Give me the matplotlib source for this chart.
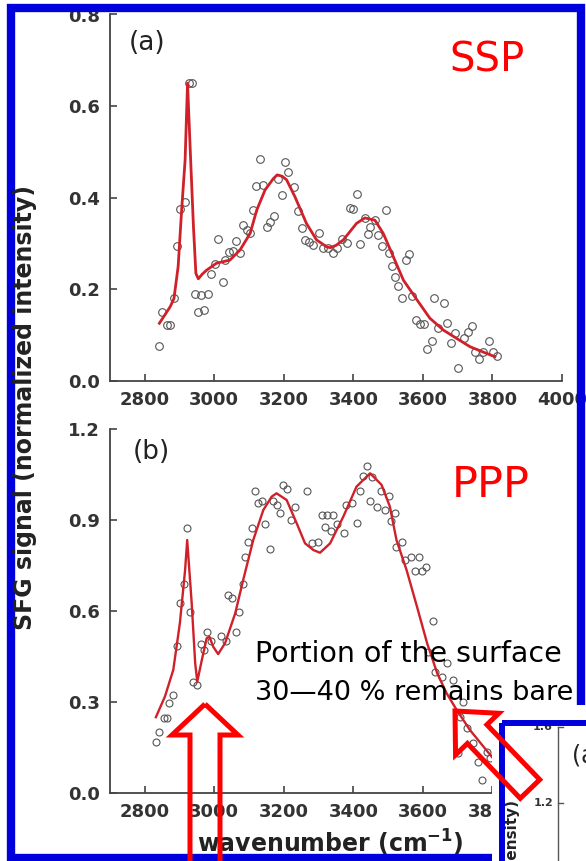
import matplotlib
matplotlib.use("Agg")
import matplotlib.pyplot as plt
import matplotlib.patches as mpatches

W, H = 586, 861          # output size in pixels (dpi 100)
BLUE = '#0000dc'
FIT_RED = '#d0202a'

# ---------------- data ----------------
# (a) SSP spectrum
ssp_wn = [2842, 2849, 2865, 2873, 2884, 2892, 2901, 2916, 2927, 2935, 2944, 2954, 2961, 2971,
          2981, 2990, 3002, 3011, 3024, 3031, 3042, 3053, 3062, 3074, 3083, 3093, 3103, 3112,
          3119, 3131, 3141, 3151, 3160, 3172, 3184, 3194, 3203, 3213, 3229, 3242, 3251, 3261,
          3273, 3283, 3302, 3313, 3328, 3342, 3352, 3366, 3382, 3390, 3400, 3409, 3419, 3433,
          3443, 3448, 3462, 3471, 3481, 3493, 3502, 3510, 3520, 3529, 3539, 3551, 3561, 3568,
          3580, 3593, 3603, 3611, 3625, 3632, 3644, 3660, 3670, 3680, 3692, 3702, 3718, 3731,
          3742, 3750, 3762, 3774, 3791, 3802, 3812]
ssp_sig = [0.076, 0.151, 0.122, 0.122, 0.182, 0.295, 0.375, 0.391, 0.650, 0.650, 0.189, 0.150,
           0.188, 0.156, 0.189, 0.233, 0.255, 0.309, 0.217, 0.264, 0.282, 0.284, 0.306, 0.280,
           0.341, 0.330, 0.324, 0.373, 0.426, 0.485, 0.428, 0.337, 0.346, 0.360, 0.442, 0.406,
           0.477, 0.457, 0.424, 0.370, 0.333, 0.308, 0.304, 0.297, 0.322, 0.290, 0.291, 0.279,
           0.291, 0.309, 0.302, 0.377, 0.375, 0.408, 0.298, 0.355, 0.320, 0.337, 0.351, 0.319,
           0.295, 0.373, 0.279, 0.250, 0.228, 0.207, 0.182, 0.264, 0.277, 0.186, 0.133, 0.124,
           0.124, 0.070, 0.087, 0.181, 0.115, 0.170, 0.127, 0.084, 0.105, 0.028, 0.093, 0.108,
           0.119, 0.063, 0.047, 0.064, 0.087, 0.064, 0.055]
ssp_fit_wn = [2842, 2873, 2884, 2896, 2906, 2916, 2923, 2932, 2940, 2947, 2954, 2965, 2978, 3006,
              3045, 3074, 3103, 3122, 3146, 3170, 3181, 3195, 3208, 3232, 3265, 3294, 3323, 3333,
              3350, 3371, 3409, 3433, 3462, 3486, 3515, 3544, 3583, 3620, 3659, 3697, 3735, 3774,
              3807]
ssp_fit = [0.126, 0.162, 0.180, 0.250, 0.373, 0.482, 0.650, 0.482, 0.337, 0.235, 0.223, 0.233,
           0.242, 0.257, 0.264, 0.286, 0.322, 0.373, 0.417, 0.442, 0.450, 0.447, 0.439, 0.402,
           0.344, 0.308, 0.293, 0.291, 0.296, 0.308, 0.344, 0.356, 0.351, 0.322, 0.271, 0.220,
           0.177, 0.137, 0.111, 0.093, 0.075, 0.063, 0.053]

# (b) PPP spectrum
ppp_wn = [2832, 2841, 2856, 2863, 2871, 2880, 2892, 2901, 2913, 2922, 2930, 2940, 2951, 2961,
          2971, 2978, 2990, 3019, 3033, 3040, 3052, 3061, 3072, 3082, 3088, 3098, 3109, 3117,
          3126, 3136, 3146, 3160, 3170, 3179, 3189, 3198, 3210, 3222, 3232, 3267, 3280, 3299,
          3309, 3318, 3325, 3335, 3342, 3352, 3373, 3380, 3395, 3409, 3419, 3427, 3440, 3448,
          3454, 3469, 3478, 3491, 3503, 3507, 3520, 3524, 3541, 3548, 3567, 3577, 3589, 3596,
          3609, 3616, 3630, 3635, 3654, 3668, 3686, 3701, 3708, 3716, 3726, 3745, 3759, 3769,
          3784, 3793]
ppp_sig = [0.169, 0.202, 0.246, 0.246, 0.296, 0.323, 0.485, 0.625, 0.689, 0.873, 0.598, 0.367,
           0.356, 0.490, 0.471, 0.530, 0.502, 0.519, 0.502, 0.653, 0.644, 0.532, 0.598, 0.689,
           0.779, 0.829, 0.875, 0.995, 0.957, 0.961, 0.887, 0.803, 0.963, 0.950, 0.922, 1.016,
           1.001, 0.900, 0.942, 0.994, 0.823, 0.829, 0.917, 0.878, 0.917, 0.865, 0.917, 0.886,
           0.856, 0.950, 0.956, 0.889, 0.994, 1.045, 1.078, 0.961, 1.043, 0.944, 0.994, 0.933,
           0.978, 0.897, 0.922, 0.811, 0.829, 0.768, 0.779, 0.733, 0.779, 0.733, 0.746, 0.466,
           0.567, 0.400, 0.383, 0.428, 0.373, 0.131, 0.252, 0.301, 0.213, 0.164, 0.103, 0.043,
           0.136, 0.114]
ppp_fit_wn = [2832, 2858, 2882, 2901, 2916, 2922, 2935, 2945, 2951, 2964, 2978, 2986, 2997, 3011,
              3031, 3060, 3083, 3112, 3141, 3165, 3179, 3208, 3237, 3261, 3285, 3304, 3333, 3371,
              3409, 3448, 3481, 3505, 3524, 3553, 3583, 3612, 3641, 3668, 3697, 3735, 3774, 3802]
ppp_fit = [0.250, 0.318, 0.406, 0.560, 0.735, 0.834, 0.625, 0.428, 0.367, 0.438, 0.510, 0.515,
           0.482, 0.458, 0.494, 0.592, 0.702, 0.834, 0.933, 0.977, 0.988, 0.966, 0.889, 0.823,
           0.801, 0.792, 0.823, 0.911, 1.010, 1.054, 1.016, 0.944, 0.834, 0.735, 0.614, 0.494,
           0.395, 0.329, 0.274, 0.208, 0.153, 0.114]

x_ticks = [2800, 3000, 3200, 3400, 3600, 3800, 4000]
ssp_yticks = [0.0, 0.2, 0.4, 0.6, 0.8]
ppp_yticks = [0.0, 0.3, 0.6, 0.9, 1.2]
inset_ylabels = ['1.6', '1.2']


def box(left, top, right, bottom):
    # pixel box -> figure fraction rect
    return [left / W, 1 - bottom / H, (right - left) / W, (bottom - top) / H]


def style(ax, yticks):
    ax.set_xlim(2700, 4000)
    ax.set_ylim(yticks[0], yticks[-1])
    ax.set_xticks(x_ticks)
    ax.set_yticks(yticks)
    ax.set_yticklabels([f'{t:.1f}' for t in yticks])
    for s in ['top', 'right']:
        ax.spines[s].set_visible(False)
    for s in ['left', 'bottom']:
        ax.spines[s].set_color('#444444')
        ax.spines[s].set_linewidth(1.3)
    ax.tick_params(direction='in', length=5, width=1.2, color='#444444', pad=7,
                   labelsize=13, labelcolor='#333333')
    for lab in ax.get_xticklabels() + ax.get_yticklabels():
        lab.set_fontweight('bold')


fig = plt.figure(figsize=(W / 100, H / 100), dpi=100, facecolor='white')

ax1 = fig.add_axes(box(110, 14.5, 562, 381))
ax1.plot(ssp_wn, ssp_sig, 'o', mfc='none', mec='#555555', mew=0.8, ms=5.5, zorder=2)
ax1.plot(ssp_fit_wn, ssp_fit, color=FIT_RED, lw=2.0, zorder=3)
style(ax1, ssp_yticks)

ax2 = fig.add_axes(box(110, 429, 562, 793))
ax2.plot(ppp_wn, ppp_sig, 'o', mfc='none', mec='#555555', mew=0.8, ms=5, zorder=2)
ax2.plot(ppp_fit_wn, ppp_fit, color=FIT_RED, lw=1.7, zorder=3)
style(ax2, ppp_yticks)

# overlay in pixel coordinates for frame, labels, inset and arrows
ov = fig.add_axes([0, 0, 1, 1], zorder=10)
ov.set_xlim(0, W)
ov.set_ylim(H, 0)
ov.axis('off')

ov.text(25, 407, 'SFG signal (normalized intensity)', rotation=90, fontsize=17,
        fontweight='bold', color='#222222', ha='center', va='center')
ov.text(330, 843, r'wavenumber (cm$^{\mathbf{-1}}$)', fontsize=17, fontweight='bold',
        color='#222222', ha='center', va='center')

ov.text(147, 43, '(a)', fontsize=19, color='#222222', ha='center', va='center')
ov.text(151, 452, '(b)', fontsize=19, color='#222222', ha='center', va='center')
ov.text(487, 60, 'SSP', fontsize=29, color='red', ha='center', va='center')
ov.text(491, 485, 'PPP', fontsize=31, color='red', ha='center', va='center')
ov.text(255, 662, 'Portion of the surface', fontsize=20.5, color='black', va='baseline')
ov.text(255, 700, '30—40 % remains bare', fontsize=19.5, color='black', va='baseline')

# outer blue frame
ov.add_patch(mpatches.Rectangle((11, 7.5), 570, 850, fill=False, ec=BLUE, lw=6, zorder=1))

# piece of the neighbouring panel in the lower right corner
ov.add_patch(mpatches.Rectangle((492, 705), 100, 160, fc='white', ec='none', zorder=2))
ov.plot([558, 558], [727, 870], color='#555555', lw=1, zorder=3)
for yy, lab in zip([727, 803], inset_ylabels):
    ov.plot([558, 563], [yy, yy], color='#555555', lw=1, zorder=3)
    ov.text(553, yy, lab, fontsize=8, fontweight='bold', color='#333333',
            ha='right', va='center', zorder=3)
ov.text(572, 755, '(a)', fontsize=17, color='#222222', ha='left', va='center', zorder=3)
ov.text(512, 800, 'SFG signal (normalized intensity)', rotation=90, fontsize=11,
        fontweight='bold', color='#222222', ha='center', va='top', zorder=3)
ov.add_patch(mpatches.Rectangle((501.5, 723), 200, 200, fill=False, ec=BLUE, lw=4.3, zorder=4))

# hollow red arrows
ov.add_patch(mpatches.FancyArrow(205, 880, 0, -176, width=30, head_width=66, head_length=31,
                                 length_includes_head=True, fill=False, ec='red', lw=3.6,
                                 joinstyle='miter', zorder=5))
ov.add_patch(mpatches.FancyArrow(530, 789, -75, -78, width=27, head_width=60, head_length=32,
                                 length_includes_head=True, fill=False, ec='red', lw=3.6,
                                 joinstyle='miter', zorder=5))

fig.savefig('out.png', dpi=100)
